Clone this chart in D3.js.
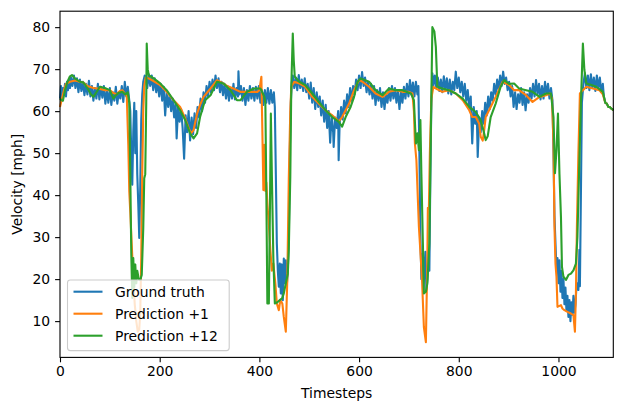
<!DOCTYPE html>
<html lang="en">
<head>
<meta charset="UTF-8">
<title>Velocity prediction</title>
<script src="https://cdn.jsdelivr.net/npm/d3@7"></script>
<style>
  body { margin: 0; background: #fff; }
  text { font-family: "DejaVu Sans", sans-serif; font-size: 13.9px; fill: #000; }
  .axis path, .axis line { stroke: #000; stroke-width: 1.1px; }
</style>
</head>
<body>
<script>
// [timestep, mph]
var groundTruth = [
  [0,63],[2,66],[4,62.5],[6,65.5],[8,64],[10,66.5],[12,63.5],[14,67],[16,65],[18,67.5],[20,65.5],[22,68],[25,66],[28,68.5],[31,65.5],[34,67.8],[37,64.5],[40,67.5],[43,64.8],[46,67],[49,63.8],[52,66.5],[55,64],[58,67.2],[61,63.5],[64,66],[67,62.5],[70,65.5],[73,63],[76,66.5],[79,62.8],[82,65.8],[85,63.2],[88,66],[91,61.8],[94,64.8],[97,62],[100,65.5],[103,61.5],[106,64.5],[109,62.5],[112,65.8],[115,61.8],[118,64.5],[121,63],[124,66],[127,62.2],[130,67],[133,63.5],[136,65.8],[139,62.5],
  [141,60],[143,50],[145,42.5],[147,55],[149,62],[151,50],[153,60],[155,45],[157,38],[159,29.8],[161,42],[163,58],[165,64],[167,67],[170,68.5],
  [172,68],[175,65.5],[178,68.8],[181,66],[184,68.5],[187,65],[190,67.8],[193,64.5],[196,67],[199,63.5],[202,66.5],[205,62.5],[208,65.8],[211,59],[214,64.5],[217,61],[220,63.8],[223,60],[226,63],[229,58.5],[232,62],[234,53.5],[237,61],[240,57.5],[243,60.5],[246,56],[249,48.7],[252,59],[255,55],[258,60],[261,53],[264,58.5],[267,54.5],[270,59.5],[273,56],[276,61],[279,58.5],[282,63],[285,60],[288,64.5],[291,62],[294,66],[297,63.5],[300,67],[303,64.5],[306,67.5],[309,65],[312,68.5],[315,65.5],[318,67.8],[321,64.5],[324,67],[327,63.8],[330,66.5],[333,63],[336,66],[339,62.5],[342,65.5],[345,63],[348,66.5],[351,62.8],[354,65.5],[357,63.5],[358,69.5],[360,64],[363,66],[366,62.5],[369,65.5],[372,61.5],[375,65],[378,62.5],[381,66],[384,63],[387,65.5],[390,62.5],[393,65.8],[396,63],[399,66],[402,62],[405,65],[408,61.5],[411,65],[414,62],[417,65.5],[420,61.8],[423,65],[426,62],[429,64.5],[431,61],
  [433,45],[435,28.5],[437,22],[439,18.2],[441,23.7],[443,16.6],[445,23.5],[447,15],[449,24.9],[451,19],[453,24.5],[455,18.5],[457,22],[459,30],[461,50],[463,62],[465,66.8],
  [467,68.5],[470,65.5],[473,68],[476,65],[479,68.6],[482,65.5],[485,67.5],[488,64.8],[491,67.8],[494,64.5],[497,66.5],[500,63],[503,66.8],[506,62],[509,65.5],[512,60.5],[515,64.5],[518,61],[521,63.5],[524,59],[527,62.5],[530,57.5],[533,61.5],[536,56],[539,60],[542,52.5],[545,59],[548,55],[549,51.5],[552,58.5],[555,56],[558,60],[559,48.3],[561,57],[564,61],[567,58],[570,62.5],[573,59.5],[576,64],[579,61],[582,65.5],[585,62.5],[588,66],[591,64],[594,67.5],[597,65],[600,68.5],[603,65.5],[606,69.3],[609,66],[612,68],[615,64.5],[618,67],[621,64],[624,66.5],[627,63],[630,66],[633,61.5],[636,65],[639,62.5],[642,65.5],[645,61],[648,64.5],[651,60.5],[654,64],[657,62],[660,65.5],[663,62.5],[666,66],[669,63],[672,65.5],[675,62],[678,65],[681,60.5],[684,64.5],[687,62],[690,65.8],[693,63],[696,66.5],[699,63.5],[702,67.4],[705,64],[708,66.8],[711,63.5],[714,67],[717,64],[719,66],
  [721,50],[723,30],[725,20],[727,26],[729,17],[731,22],[733,26.5],[735,17.5],[737,20],[739,26],[741,22],[743,45],[745,62],[747,69],
  [749,66],[752,68.5],[755,65.5],[758,68],[761,64.8],[764,67.5],[767,64.5],[770,68.3],[773,65],[776,67.8],[779,64.2],[782,67.5],[785,64],[788,67],[791,65],[794,69.4],[797,65.5],[800,68],[803,64.5],[806,67],[809,63.5],[812,66.5],[815,62.5],[818,65],[821,60.5],[824,63.5],[827,52.3],[830,61],[833,57],[836,60],[838,49.1],[841,58.5],[844,55],[847,60],[850,57],[853,62],[856,59],[859,63.5],[862,60.5],[865,64.5],[868,62.5],[871,66.5],[874,64],[877,67.5],[880,65],[883,68.5],[886,66],[889,69.4],[892,66.5],[895,68],[898,65],[901,67],[904,63.5],[907,66],[910,61],[913,64.5],[916,60.5],[919,64],[922,62],[925,65.5],[928,61.5],[931,64.5],[934,60.2],[937,64],[940,62],[943,65.5],[946,63],[949,66.5],[952,63.5],[955,67.4],[958,64],[961,66.5],[964,62.8],[967,66],[970,63],[973,67],[976,64],[979,66.5],[982,63],[985,65.5],[988,62.5],
  [990,50],[992,35],[994,28.5],[996,22],[998,25],[1000,19],[1002,24.5],[1004,17],[1006,22],[1008,15.5],[1010,20],[1012,14],[1014,18],[1016,12.5],[1018,16],[1020,11],[1022,15],[1024,10],[1026,14.5],[1028,11.5],[1030,16],[1032,12],[1034,14],[1036,18],[1038,19],[1040,17.4],[1042,27],[1043,18.3],[1045,40],[1047,62],
  [1050,66.5],[1053,69],[1056,65.5],[1059,68.5],[1062,65],[1065,68.8],[1068,65.5],[1071,68],[1074,64.8],[1077,68.5],[1080,65.5],[1083,68],[1086,64.5],[1089,66.5],[1091,63.5],[1094,62],[1097,61.8],[1100,61],[1103,61],[1106,60.6],[1108,60.5],[1110,60.2]
];

var predOne = [
  [0,61],[4,63],[8,65],[12,66.5],[20,67],[30,67.3],[40,67],[47,66.8],[55,66],[67,65.5],[80,65.3],[90,65],[100,65],[107,64.3],[114,64],[120,64.8],[125,65],[131,64],[134,63.5],[137,52],[139,40.8],[141,36],[144,28],[147,20],[150,14],[153,10],[156,7.5],[159,8],[161,12],[163,25],[165,45],[167,60],[169,66],[172,68],
  [178,67.8],[190,67],[201,66.2],[214,64.6],[228,62.6],[241,61],[251,58.3],[258,56],[263,54.7],[268,55.5],[275,59.4],[281,61.5],[288,63.4],[302,65.4],[315,67.4],[325,66.8],[335,66],[348,65.4],[362,64.6],[382,64.6],[396,64.6],[400,65],[404,68.2],[406,55],[408,41.2],[410,52],[412,41],[414,43],[416,38],[419,33],[422,27],[425,22],[428,23.7],[432,19],[435,14.2],[439,12.6],[442,15],[446,14.2],[449,11],[453,7.5],[456,20],[459,44],[462,60],[464,65.8],
  [470,67],[480,66.6],[492,65.8],[506,63.4],[519,61.8],[533,60.2],[546,59],[553,58.3],[559,57.5],[566,58.6],[573,60.2],[580,61.8],[590,65],[600,67.4],[607,67],[620,65.8],[633,64.2],[647,63.4],[660,64.6],[674,65],[687,64.6],[700,64.6],[707,64.2],[710,60],[712,52.3],[715,48.3],[720,32.5],[726,20.6],[730,8.6],[734,5],[737,25],[738,37],[740,36.8],[742,50],[745,63],[749,65.8],
  [754,65.4],[767,64.6],[780,65],[794,64.2],[808,62.6],[821,60.2],[827,58.6],[834,58.6],[841,57],[844,53.9],[848,53],[851,55.5],[854,58.6],[864,61],[874,63.4],[888,67],[901,66.2],[911,65],[921,65],[935,63.8],[948,62.2],[962,63.4],[975,63.8],[983,64.2],[987,63],[990,52.3],[992,32.5],[994,23.7],[996,20.6],[998,13.4],[1005,13.8],[1008,13],[1012,12.6],[1018,12.2],[1025,11.8],[1030,11.4],[1033,7.5],[1035,16.6],[1037,32.5],[1040,50],[1043,64.2],
  [1049,65],[1056,65.8],[1069,65.4],[1082,65],[1089,64],[1094,62],[1097,61.8],[1100,61],[1103,61],[1106,60.6],[1108,60.5],[1110,60.2]
];

var predTwelve = [
  [0,63],[3,62.6],[6,62.5],[10,65],[15,67],[20,68.3],[24,68.6],[30,67.8],[40,67],[47,66.8],[55,65.5],[62,64],[67,63.4],[73,64.5],[80,65.8],[90,65.5],[100,65],[107,63],[112,63.8],[117,64.3],[125,64.6],[131,64],[136,64.5],[139,62],[141,45],[143,26],[145,15.5],[147,25],[149,18],[151,23.5],[153,19],[155,22],[158,20],[161,19.8],[164,21],[167,32],[169,44],[171,45],[173,62],[174,76.1],[176,70],[178,68.6],
  [188,67.8],[201,66.6],[214,65],[228,62.6],[241,60.2],[251,57.9],[261,54.7],[268,53.5],[275,54.7],[281,58.6],[291,62.6],[302,63.8],[315,67],[328,66.6],[342,65],[355,62.6],[362,62.6],[375,64.6],[389,65.4],[402,65.4],[407,64.2],[410,63.4],[412,61.8],[414,40],[416,14.2],[419,14.2],[421,35],[423,59.4],[425,45],[428,25],[431,14.2],[436,14.5],[441,15],[446,15.5],[449,16.6],[453,19],[457,21.3],[459,27],[462,44.4],[464,65.8],[467,78.5],[469,72],[471,68.2],
  [480,67],[492,66.2],[506,64.2],[519,62.2],[533,60.2],[546,58.6],[553,58],[559,57.5],[566,56.3],[573,58.6],[583,61],[590,63.4],[597,67],[603,67.8],[620,67],[633,65],[647,63.8],[660,65.4],[674,65],[687,65],[704,64.2],[710,62.6],[714,52.3],[717,54.7],[720,50.7],[723,57.9],[725,45],[728,28.5],[730,16.6],[734,17],[737,19],[741,28.5],[744,55],[747,80],[751,79],[754,75.3],[757,65.8],
  [767,65.4],[780,65],[794,64.2],[808,63],[821,61],[834,59.8],[844,57.9],[851,54.7],[854,53.1],[858,54],[864,58.6],[874,61.8],[884,65.8],[891,67.4],[901,66.5],[911,66.6],[921,65.4],[935,65],[948,64.6],[962,63.4],[975,64.2],[985,64.2],[990,58.6],[993,45.2],[996,50.7],[999,59.4],[1002,45],[1005,34.8],[1007,22.9],[1010,20.6],[1015,19.8],[1020,21],[1025,21.3],[1030,22.1],[1035,23.7],[1038,30],[1042,48.3],[1045,62],[1049,76.1],[1052,69.8],
  [1056,66.6],[1066,66.2],[1076,65.8],[1089,64.6],[1094,62],[1097,61.8],[1100,61],[1103,61],[1106,60.6],[1108,60.5],[1110,60.2]
];

var seriesNames = ["Ground truth", "Prediction +1", "Prediction +12"];
var seriesColors = ["#1f77b4", "#ff7f0e", "#2ca02c"];
var xTicks = [0, 200, 400, 600, 800, 1000];
var yTicks = [10, 20, 30, 40, 50, 60, 70, 80];

var w = 621, h = 409;
var plotLeft = 60, plotRight = 613.3, plotTop = 11.2, plotBottom = 357.4;

var svg = d3.select("body").append("svg")
  .attr("width", w)
  .attr("height", h);

var xScale = d3.scaleLinear().domain([0, 1110]).range([plotLeft, plotRight]);
var yScale = d3.scaleLinear().domain([1.36, 83.8]).range([plotBottom, plotTop]);

var line = d3.line()
  .x(function(d) { return xScale(d[0]); })
  .y(function(d) { return yScale(d[1]); });

[groundTruth, predOne, predTwelve].forEach(function(series, i) {
  svg.append("path")
    .datum(series)
    .attr("fill", "none")
    .attr("stroke", seriesColors[i])
    .attr("stroke-width", 2.1)
    .attr("stroke-linejoin", "round")
    .attr("d", line);
});

// axes
var xAxis = d3.axisBottom(xScale).tickValues(xTicks).tickFormat(d3.format("d"))
  .tickSize(4.9).tickPadding(4.3).tickSizeOuter(0);
var yAxis = d3.axisLeft(yScale).tickValues(yTicks).tickFormat(d3.format("d"))
  .tickSize(4.9).tickPadding(4.9).tickSizeOuter(0);

svg.append("g").attr("class", "axis")
  .attr("transform", "translate(0," + plotBottom + ")")
  .call(xAxis);
svg.append("g").attr("class", "axis")
  .attr("transform", "translate(" + plotLeft + ",0)")
  .call(yAxis);
svg.selectAll(".axis .domain").remove();
svg.selectAll(".axis").attr("font-family", null).attr("font-size", null);

// frame
svg.append("rect")
  .attr("x", plotLeft).attr("y", plotTop)
  .attr("width", plotRight - plotLeft).attr("height", plotBottom - plotTop)
  .attr("fill", "none").attr("stroke", "#000").attr("stroke-width", 1.1);

svg.append("text")
  .attr("x", (plotLeft + plotRight) / 2).attr("y", 398)
  .attr("text-anchor", "middle")
  .text("Timesteps");

svg.append("text")
  .attr("transform", "translate(22," + (plotTop + plotBottom) / 2 + ") rotate(-90)")
  .attr("text-anchor", "middle")
  .text("Velocity [mph]");

// legend, lower left
var legend = svg.append("g");
legend.append("rect")
  .attr("x", 67.5).attr("y", 280)
  .attr("width", 161.7).attr("height", 70.6)
  .attr("rx", 2.8)
  .attr("fill", "#fff").attr("fill-opacity", 0.8)
  .attr("stroke", "#ccc").attr("stroke-width", 1.1);

seriesNames.forEach(function(name, i) {
  var yy = 291.7 + i * 22;
  legend.append("line")
    .attr("x1", 73.5).attr("x2", 102.5)
    .attr("y1", yy).attr("y2", yy)
    .attr("stroke", seriesColors[i])
    .attr("stroke-width", 2.1);
  legend.append("text")
    .attr("x", 115).attr("y", yy + 5)
    .text(name);
});
</script>
</body>
</html>
